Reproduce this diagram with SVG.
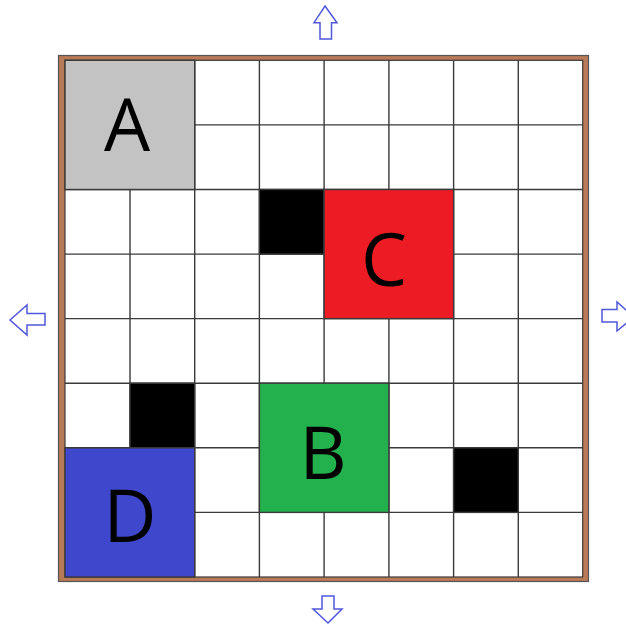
<svg xmlns="http://www.w3.org/2000/svg" width="626" height="625" viewBox="0 0 626 625">
<style>
.g{stroke:#3a3a3a;stroke-width:1.4;fill:none}
.blk{stroke:#3a3a3a;stroke-width:1.4}
.lbl{font-family:"Open Sans","Liberation Sans",sans-serif;font-size:73px;fill:#000;text-anchor:middle}
.arr{fill:#fff;stroke:#5058dc;stroke-width:1.5;stroke-linejoin:miter}
</style>
<rect width="626" height="625" fill="#fff"/>
<g id="frame">
<rect x="58.5" y="55.5" width="530" height="526" fill="#b97a57" stroke="#555" stroke-width="1.2"/>
<rect x="65" y="60.3" width="517.7" height="516.7" fill="#fff" stroke="#3a3a3a" stroke-width="1.2"/>
</g>
<g id="grid" class="g">
<path d="M130,60.3V577M194.7,60.3V577M259.4,60.3V577M324.1,60.3V577M388.9,60.3V577M453.6,60.3V577M518.3,60.3V577"/>
<path d="M65,124.9H582.7M65,189.5H582.7M65,254.1H582.7M65,318.6H582.7M65,383.2H582.7M65,447.8H582.7M65,512.4H582.7"/>
</g>
<g id="walls">
<rect class="blk" x="259.4" y="189.5" width="64.7" height="64.6" fill="#000"/>
<rect class="blk" x="130" y="383.2" width="64.7" height="64.6" fill="#000"/>
<rect class="blk" x="453.6" y="447.8" width="64.7" height="64.6" fill="#000"/>
</g>
<g id="A">
<rect class="blk" x="65" y="60.3" width="129.7" height="129.2" fill="#c3c3c3"/>
<text class="lbl" x="127" y="151">A</text>
</g>
<g id="C">
<rect class="blk" x="324.1" y="189.5" width="129.5" height="129.1" fill="#ed1c24"/>
<text class="lbl" x="384" y="286">C</text>
</g>
<g id="B">
<rect class="blk" x="259.4" y="383.2" width="129.5" height="129.2" fill="#22b14c"/>
<text class="lbl" x="323" y="479">B</text>
</g>
<g id="D">
<rect class="blk" x="65" y="447.8" width="129.7" height="129.2" fill="#3f48cc"/>
<text class="lbl" x="130" y="542">D</text>
</g>
<g id="arrows">
<polygon class="arr" points="325,6 337,22.7 331.5,22.7 331.5,39 320,39 320,22.7 314,22.7"/>
<polygon class="arr" points="10,320 27,305 27,313.5 45,313.5 45,325 27,325 27,335"/>
<polygon class="arr" points="634,317 617,302 617,309.5 602,309.5 602,322 617,322 617,331"/>
<polygon class="arr" points="328,623 342,609 334,609 334,596 322,596 322,609 313,609"/>
</g>
</svg>
